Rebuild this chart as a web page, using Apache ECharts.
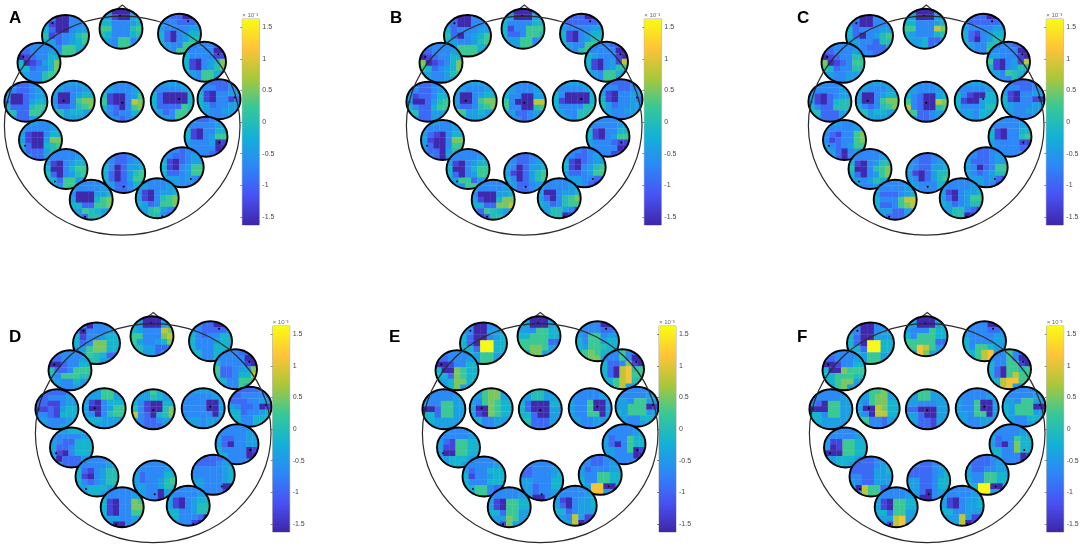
<!DOCTYPE html>
<html><head><meta charset="utf-8">
<style>html,body{margin:0;padding:0;background:#fff}#c{width:1084px;height:559px;filter:blur(0.45px)}</style>
<script src="https://cdn.jsdelivr.net/npm/echarts@6/dist/echarts.min.js"></script>
</head><body><div id="c"></div>
<script>
// Each topography = 7 rows of 7 level codes (top to bottom); codes index amplitudeLevels (x 10^-3).
const amplitudeLevels = [-1.6,-1.3,-0.95,-0.68,-0.42,-0.18,0.02,0.25,0.5,0.8,1.1,1.6];
const panelLabels = ['A','B','C','D','E','F'];
const colorbarTicks = [-1.5,-1,-0.5,0,0.5,1,1.5];
const colorRange = [-1.63,1.63];
const panelA = [
"3300333 4100333 5200344 6123467 5423457 4437754 4447744",
"4400044 4410045 5533345 7733367 6533356 4437734 4437744",
"3322003 3332223 4333344 5203455 5203466 5433776 4437766",
"3333333 2233344 0123355 5012458 5523358 4433677 4433666",
"3333322 3333300 5333311 5103458 5103468 5437754 4437744",
"3322333 3322344 4002344 3002455 5222677 6622774 4422444",
"4444444 4433344 4003455 3003788 4223678 6645544 6644444",
"4433344 4433345 6100347 7100398 5320378 4323355 4432344",
"4444444 3333344 5200005 5200005 5222276 4423776 4443774",
"3322233 3332233 5103344 5103312 5423344 5433444 4433344",
"4443344 3333344 4100355 4100488 5200567 3222466 4422444",
"3322333 3333344 5103355 5103477 4333401 4333300 4333211",
"4333333 3333344 4103455 5003577 6203467 5527743 4437744",
"3322333 3322344 5302445 5202467 5202477 4422355 4422344",
"3332333 3322344 5102344 5103477 5223477 4443432 4443343",
"3333333 4333344 3000445 4000578 5522778 4476544 4426644",
"3333333 4433344 4103445 4103678 5423778 4467432 4466321"];
const panelB = [
"3200333 3200333 5233344 6203457 5433467 4477754 4477744",
"4400044 4400044 5333355 5133777 5223776 4447734 4447744",
"2222003 3222223 4333344 5103455 5103466 5433776 4436766",
"3333333 2233344 0123355 8012358 7523458 4433466 4433444",
"3333222 3333300 5433310 5103419 5103467 4437754 4437744",
"3322333 3322344 4122355 4002467 5322577 6622444 4422444",
"4444444 4433344 4003455 4003788 4223678 8744544 6644444",
"4433344 4433344 5330044 7300099 7330067 4422344 4432344",
"4444444 3333344 5300005 5100005 5333366 4433666 4443664",
"3322233 3332233 4103344 5103342 6423344 5433444 4433344",
"4443344 3333344 4210355 4100388 4200377 3220466 4420444",
"3333333 3333344 5103355 5103477 4333211 4333300 4333111",
"3333333 3333344 4103455 5003577 5203477 4477243 4437744",
"3322333 3322344 4302445 4102467 5302467 4422344 4422344",
"3332333 3322344 5102344 5103467 4223477 4443322 4443212",
"3333333 4333344 3000445 4100588 5522889 3276544 1126644",
"3333333 4333344 4003445 4203678 5423677 4466431 4466010"];
const panelC = [
"3300333 3200333 5233344 5203467 4433266 4432224 4433224",
"4400044 4400044 5533345 7733398 5433356 4445223 4445244",
"2222003 3222223 4333344 5213455 5203466 5433666 4433766",
"3333333 2233344 0123366 8012377 7523366 4433444 4433444",
"3333222 3333300 4433310 7103419 5103466 4437654 4433644",
"3333333 3333344 4102344 4102566 5322666 6622244 4422244",
"4444444 4433344 4003455 4003788 5323678 6645544 6644444",
"4433344 4433344 5320045 7320098 9320067 7722344 4422344",
"4444444 3333344 5310055 5100455 5333466 4443554 4443544",
"3322233 3332233 4103344 5103310 5433344 4433444 4433344",
"4443344 3333344 3213378 3123378 4323477 4420344 4420344",
"3333333 3333344 5103355 5103367 4333311 4333322 4333344",
"3333333 3333344 5103466 6003678 5203478 4434654 4433444",
"3322333 3322344 4322445 4102466 4302467 4433354 4433344",
"3322333 3322344 4222344 4302377 4323466 4443421 4443311",
"3333333 4333344 4222345 5333799 5223789 4442244 4422244",
"3333333 4333344 4103445 4203477 5423466 4466321 4466010"];
const panelD = [
"3303333 3033344 5133455 5238855 4478855 4476522 4466444",
"4400044 4400044 5433398 7733389 7433458 6644222 6644244",
"3322003 3322223 5323355 5333455 5333555 5533555 5533555",
"3333333 2233344 0023355 6223777 5377766 4433544 4433444",
"3333222 3333300 5333310 7223448 7223559 5533777 4433744",
"2222233 2233344 2211344 1121455 3321555 4433344 4433444",
"4447744 4447744 4103555 4003477 4303677 5554444 5544444",
"4447544 4446544 5310055 6310068 9320568 5322344 4322244",
"4444444 3333344 3333004 3333004 3333304 4443444 4443444",
"2222233 2233333 2223344 4322301 5523345 5533555 5533555",
"4445544 3333344 4322555 4223555 4103555 4022244 4422244",
"3333333 3333344 4223344 4203344 5333301 5533300 4433344",
"4433344 3333344 5213466 5103466 5323466 4455544 4455444",
"3333333 3333344 4233355 4233467 4433466 4433044 4433044",
"2222233 2222344 3333345 3333345 4433345 5433300 4433310",
"3333333 4333344 5103387 5103388 5103377 4443344 4400344",
"3333333 4333344 4103455 4103466 5533466 5533320 4433100"];
const panelE = [
"3300333 3300444 5200345 520bb55 552bb55 5547744 4447744",
"4400044 4400044 4437755 5577755 7777722 7788744 4488444",
"3333003 3333223 4377344 5377455 5477655 5787555 4788444",
"3333333 2233344 0013355 5008755 5528755 4458855 4458444",
"3337322 3337300 5223810 5209a67 5209a77 5579a66 4479444",
"3333333 3333344 4337744 0027744 5527744 5544444 4444444",
"4478844 4478844 4378755 4008755 4108755 5533444 5533444",
"4466444 4466444 5200055 5200044 5520044 6622244 5622244",
"3333333 3333344 4337004 4337004 4337704 4433444 4433444",
"3333333 3333344 4437744 4477701 5477744 4433554 4433444",
"4433344 3333344 4217755 4117755 4007755 4455544 4455444",
"3333333 3333344 4233755 4203755 4433701 4433300 4433344",
"3333333 3333344 4233555 5133455 5333555 5577322 4477322",
"3333333 2233344 2233345 4433355 4423355 4423344 4400344",
"3322333 3322344 4233344 4337755 5337755 54aa005 44aa444",
"3333333 4333344 4107755 4107755 5527744 4448744 4418444",
"3333333 4333344 4103445 4203445 5523444 4439411 4449010"];
const panelF = [
"3300333 3300344 5200444 520bb55 552bb55 5547744 4447744",
"4400044 4400044 4333755 5377755 7777722 77a9744 44a8444",
"3333003 3333223 4333344 5333344 5377544 5579a44 4479a44",
"3333333 2233344 0013355 5008777 5577766 5578844 4478444",
"3337322 3337300 5337710 5207767 5207977 559aa77 449a444",
"3333333 3333344 3207744 0007744 5537744 5544444 4444444",
"4477844 4478844 4378855 4009855 4309955 7733244 7733244",
"4477444 4477444 4433344 2200044 4420044 5422144 5422144",
"3333333 3333344 4337004 4337004 4437704 4433444 4433444",
"3333333 3333344 4437744 5477700 5477744 5433554 4433444",
"4433344 3333344 4117755 4017755 0007755 4455544 4455444",
"3333333 3333344 4233755 4203855 5533855 5533301 4433300",
"3322333 2222344 2222445 3322444 4322444 4097722 4497744",
"3322333 2222344 2222345 4422355 4422355 4420344 4400344",
"3322333 3222344 4223344 4337755 5337755 55bb004 44bb444",
"3333333 4333344 4107755 4107755 5527744 4449a44 4419a44",
"3333333 4333344 4103445 4103445 5533444 4449411 4449010"];
const electrodeCol = [1.55,3.35,4.9,0.95,5.75,0.5,1.95,3.5,4.65,6.1,0.98,5.67,1.7,3.5,4.9,2.5,4.34];
const electrodeRow = [1.4,1.25,1.3,2.5,2.2,3.5,3.5,3.65,3.2,3.2,4.5,4.5,5.7,5.9,5.55,6.5,6.7];
const panels = [panelA,panelB,panelC,panelD,panelE,panelF];

// layout
const topoCx = [65.5,121,179.5,39,204.5,25.9,73.2,122.3,172.2,219,40.5,206,66,123.7,182.2,91.2,157.2];
const topoCy = [35.8,28.7,33.7,62.8,61.7,101.7,100.8,101.8,100.8,99.2,140,136.7,169,173,167.3,199.7,198.2];
const topoW = i => i===0 ? 47 : 43;
const topoH = i => i===0 ? 41.5 : 40;
const panelDx = [0,402,804,31,418,805];
const panelDy = [0,0,0,307.5,307.5,307.5];
const barX = [242.3,644.3,1046.3,272.7,659,1046.7];
const barY = [19,19,19,326,326,326];
const labelX = [9,390,797,9,389,797];
const labelY = [10,10,10,329,329,329];

const parula = ['#3e26a8','#4852f4','#2d87f7','#12b1d6','#37c897','#abc739','#fec338','#f9fb14'];
const shade = v => echarts.color.lerp((v-colorRange[0])/(colorRange[1]-colorRange[0]), parula);

function renderCell(params, api){
  const cs = params.coordSys, c = api.value(0), r = api.value(1);
  const a = api.coord([c,r]), b = api.coord([c+1,r+1]);
  return {type:'rect', silent:true,
    shape:{x:a[0],y:a[1],width:b[0]-a[0]+0.4,height:b[1]-a[1]+0.4},
    style:{fill:shade(api.value(2))},
    clipPath:{type:'ellipse',shape:{cx:cs.x+cs.width/2,cy:cs.y+cs.height/2,rx:cs.width/2,ry:cs.height/2}}};
}
function renderRing(params, api){
  const cs = params.coordSys, p = api.coord([api.value(0),api.value(1)]);
  return {type:'group', silent:true, children:[
    {type:'ellipse',shape:{cx:cs.x+cs.width/2,cy:cs.y+cs.height/2,rx:cs.width/2,ry:cs.height/2},
      style:{fill:'none',stroke:'#000',lineWidth:1.9}},
    {type:'circle',shape:{cx:p[0],cy:p[1],r:1},style:{fill:'#000'}}]};
}
function renderBar(params, api){
  const cs = params.coordSys;
  return {type:'rect', silent:true, shape:{x:cs.x,y:cs.y,width:cs.width,height:cs.height},
    style:{fill:new echarts.graphic.LinearGradient(0,1,0,0,
      parula.map((color,i)=>({offset:i/(parula.length-1),color})))}};
}

const grid=[],xAxis=[],yAxis=[],series=[],title=[],graphic=[];
panels.forEach((panel,p)=>{
  const dx=panelDx[p], dy=panelDy[p];
  graphic.push({type:'polyline',z:0,silent:true,shape:{points:[[dx+107,dy+17],[dx+122.3,dy+5],[dx+137,dy+17]]},style:{fill:'none',stroke:'#333',lineWidth:1.1}});
  graphic.push({type:'ellipse',z:100,silent:true,shape:{cx:dx+122.2,cy:dy+125.7,rx:117.8,ry:109.5},style:{fill:'none',stroke:'#2a2a2a',lineWidth:1.2}});
  title.push({text:panelLabels[p],left:labelX[p],top:labelY[p],padding:0,textStyle:{fontFamily:'Liberation Sans',fontWeight:'bold',fontSize:17,color:'#000'}});
  panel.forEach((topo,i)=>{
    const w=topoW(i),h=topoH(i),g=grid.length;
    grid.push({left:dx+topoCx[i]-w/2,top:dy+topoCy[i]-h/2,width:w,height:h});
    xAxis.push({gridIndex:g,type:'value',min:0,max:7,show:false});
    yAxis.push({gridIndex:g,type:'value',min:0,max:7,inverse:true,show:false});
    const cells=[];
    topo.split(' ').forEach((row,r)=>[...row].forEach((ch,c)=>cells.push([c,r,amplitudeLevels[parseInt(ch,16)]])));
    series.push({type:'custom',coordinateSystem:'cartesian2d',xAxisIndex:g,yAxisIndex:g,data:cells,encode:{x:0,y:1},renderItem:renderCell,silent:true,animation:false});
    series.push({type:'custom',coordinateSystem:'cartesian2d',xAxisIndex:g,yAxisIndex:g,data:[[electrodeCol[i],electrodeRow[i]]],encode:{x:0,y:1},renderItem:renderRing,silent:true,animation:false});
  });
  const g=grid.length;
  grid.push({left:barX[p],top:barY[p],width:17,height:206,show:true,borderColor:'#999',borderWidth:0.8,backgroundColor:'transparent'});
  xAxis.push({gridIndex:g,type:'value',min:0,max:1,show:false});
  yAxis.push({gridIndex:g,type:'value',min:colorRange[0],max:colorRange[1],position:'right',
    name:'× 10⁻³',nameLocation:'end',nameGap:1,nameTextStyle:{fontSize:6,color:'#666',align:'left',fontFamily:'Liberation Sans'},
    splitLine:{show:false},axisLine:{show:false},
    axisTick:{show:true,inside:true,length:2,lineStyle:{color:'#555',width:0.7},customValues:colorbarTicks},
    axisLabel:{margin:3,fontSize:7,color:'#444',fontFamily:'Liberation Sans',customValues:colorbarTicks,formatter:v=>String(v)}});
  series.push({type:'custom',coordinateSystem:'cartesian2d',xAxisIndex:g,yAxisIndex:g,data:[[0,0]],encode:{x:0,y:1},renderItem:renderBar,silent:true,animation:false});
});
const chart=echarts.init(document.getElementById('c'),null,{renderer:'canvas'});
chart.setOption({backgroundColor:'#fff',animation:false,title,grid,xAxis,yAxis,series,graphic:{elements:graphic}});
</script></body></html>
